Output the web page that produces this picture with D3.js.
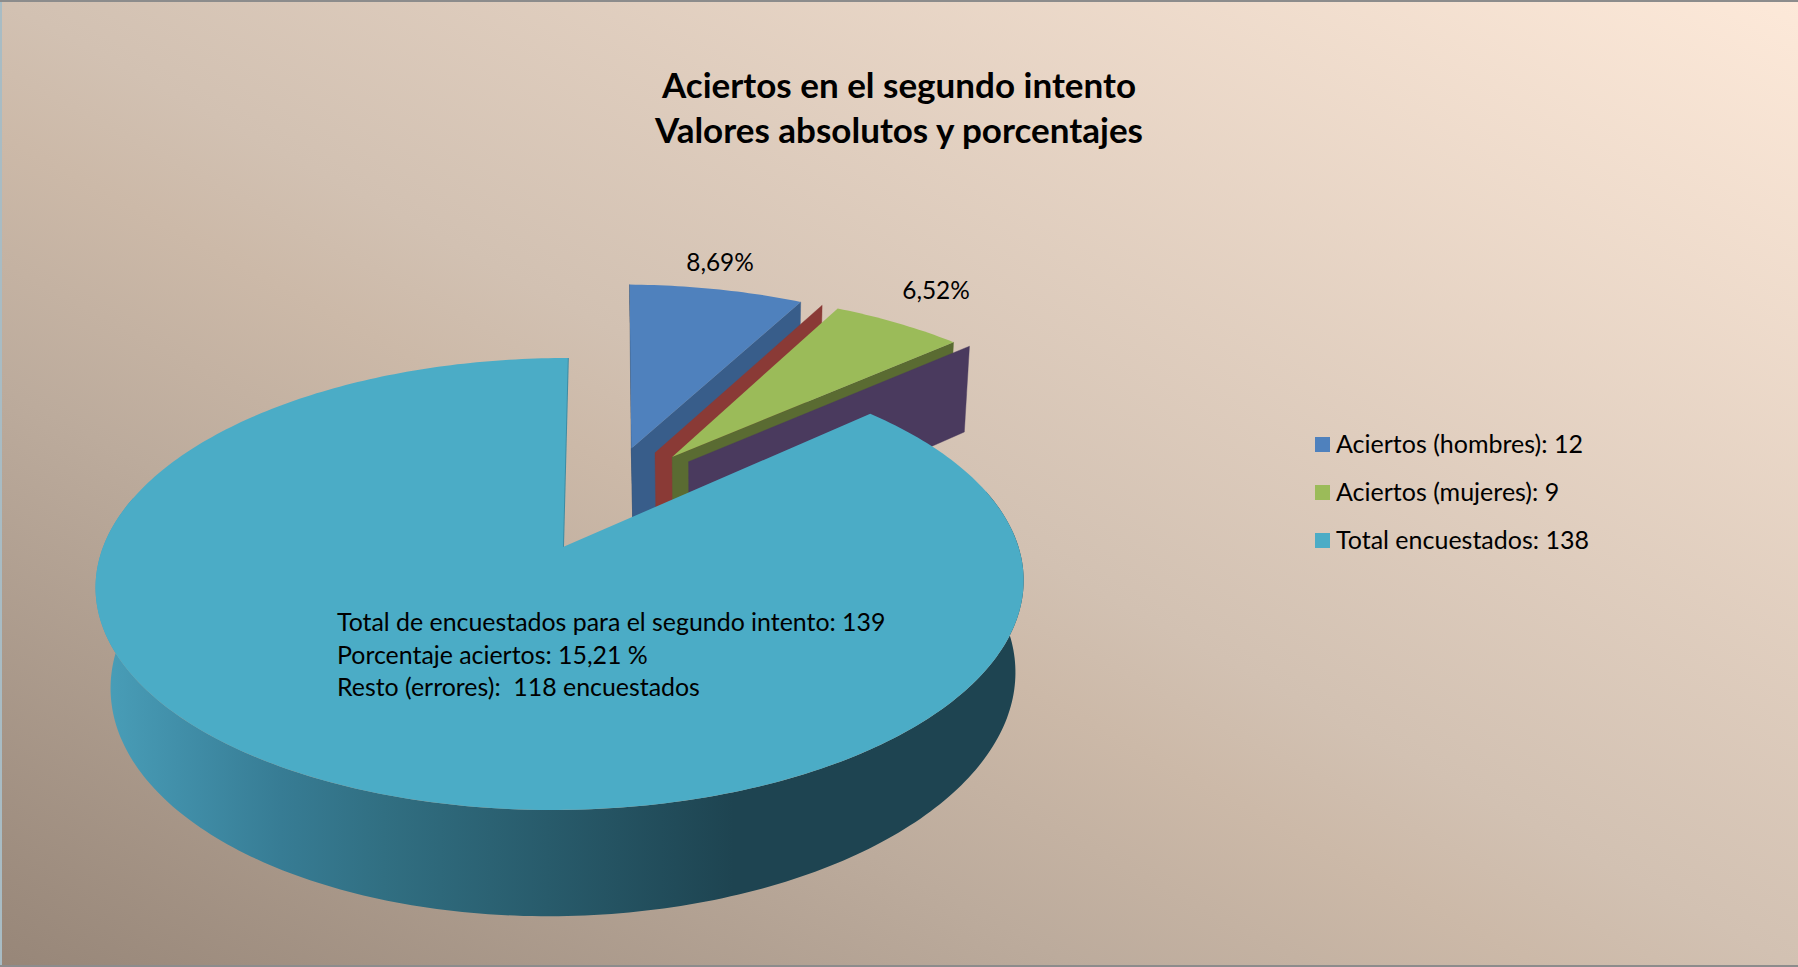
<!DOCTYPE html>
<html><head><meta charset="utf-8">
<script src="https://cdn.jsdelivr.net/npm/d3@7"></script>
<style>html,body{margin:0;padding:0;background:#fff;overflow:hidden}svg{display:block}text{font-family:Lato,"Open Sans",sans-serif;fill:#000}</style>
</head><body><svg id="c" width="1798" height="967"></svg>
<script>
const categories=["Aciertos (hombres)","(sin nombre A)","Aciertos (mujeres)","(sin nombre B)","Total encuestados"];
const values=[12,0,9,0,138];
const legendItems=["Aciertos (hombres): 12","Aciertos (mujeres): 9","Total encuestados: 138"];
const dataLabels=["8,69%","6,52%"];
const titleLines=["Aciertos en el segundo intento","Valores absolutos y porcentajes"];
const noteLines=["Total de encuestados para el segundo intento: 139","Porcentaje aciertos: 15,21 %","Resto (errores):  118 encuestados"];

const topColors=["#4f81bd","#8a3a36","#9bbb59","#4a3a5e","#4bacc6"];
const wallColors=["#385d8a","#8a3a36","#5a6b32","#4a3a5e","#1e4451"];

const W=1798,H=967;
const svg=d3.select("#c");
const defs=svg.append("defs");
const bg=defs.append("linearGradient").attr("id","bg").attr("x1",0).attr("y1",1).attr("x2",1).attr("y2",0);
[[0,"#978678"],[.3,"#bcab9c"],[.43,"#ccb9a8"],[.5,"#d2c1b2"],[1,"#fde9d9"]].forEach(s=>bg.append("stop").attr("offset",s[0]).attr("stop-color",s[1]));
const tw=defs.append("linearGradient").attr("id","tw").attr("gradientUnits","userSpaceOnUse").attr("x1",95).attr("x2",1024).attr("y1",0).attr("y2",0);
[[0,"#4aa0ba"],[.09,"#418fa9"],[.2,"#377c94"],[.31,"#316f82"],[.487,"#285b6b"],[.687,"#1e4451"],[1,"#1e4451"]].forEach(s=>tw.append("stop").attr("offset",s[0]).attr("stop-color",s[1]));

svg.append("rect").attr("width",W).attr("height",H).attr("fill","url(#bg)");
svg.append("path").attr("d",`M1,${H}V0`).attr("stroke","#a8bcc4").attr("stroke-width",2).attr("fill","none");
svg.append("path").attr("d",`M0,1H${W}`).attr("stroke","#8c8c8c").attr("stroke-width",2).attr("fill","none");
svg.append("path").attr("d",`M0,${H-1}H${W}`).attr("stroke","#8c8c8c").attr("stroke-width",2).attr("fill","none");

// perspective model of the disc
const cx=559.6,cy=547,A=457.8,B=219.9,k=.1637,thick=98,m=.025,baseShift=3.4;
const scaleThick=d3.scaleLinear().domain([0,1]).range([0,thick]);
const tiltTop=3.5,tiltBottom=8;
function proj(u,v,d,tilted){
  const w=1-k*v+m*d;
  const t=tilted?(tiltTop+(tiltBottom-tiltTop)*d)*u:0;
  return [cx+baseShift*d+A*u/w,cy+(B*v+scaleThick(d)-t)/w];
}

const rot=1.2*Math.PI/180;
const arcs=d3.pie().sort(null).startAngle(rot).endAngle(rot+2*Math.PI)(values);
const line=d3.line();
const dirOf=mid=>(12+.492*mid)*Math.PI/180;
const explodeE=.512;
arcs.forEach((a,i)=>{
  const mid=(a.startAngle+a.endAngle)/2*180/Math.PI;
  if(i<4){const t=dirOf(mid);a.ou=explodeE*Math.sin(t);a.ov=-explodeE*Math.cos(t);a.cu=a.ou;a.tilted=false;}
  else{a.ou=0;a.ov=0;a.cu=.0074;a.tilted=true;}
});
const rim=(a,t,d)=>proj(a.ou+Math.sin(t),a.ov-Math.cos(t),d,a.tilted);
const centre=(a,d)=>proj(a.cu,a.ov,d,a.tilted);
const ring=(a,t0,t1,d)=>{const n=Math.max(1,Math.ceil(Math.abs(t1-t0)*60));return d3.range(n+1).map(j=>rim(a,t0+(t1-t0)*j/n,d));};
const g=svg.append("g");
const radial=(a,t,fill)=>g.append("path").attr("d",line([centre(a,0),rim(a,t,0),rim(a,t,1),centre(a,1)])+"Z").attr("fill",fill).attr("stroke",fill).attr("stroke-width",.4);
const topFace=(a,fill)=>g.append("path").attr("d",line([centre(a,0),...ring(a,a.startAngle,a.endAngle,0)])+"Z").attr("fill",fill);

const [blue,red,green,purple,teal]=arcs;
radial(blue,blue.startAngle,"#1f3a5c");
radial(blue,blue.endAngle,wallColors[0]);
topFace(blue,topColors[0]);
radial(red,red.startAngle,wallColors[1]);
radial(green,green.endAngle,wallColors[2]);
topFace(green,topColors[2]);
radial(purple,purple.startAngle,wallColors[3]);

// teal: radial edge sliver, outer wall and top face
const t1=teal.endAngle;
g.append("path").attr("d",line([centre(teal,0),rim(teal,t1,0)])).attr("stroke","#3d8ba3").attr("stroke-width",2).attr("fill","none");
const tWallA=Math.PI/2-.25,tWallB=Math.PI*1.5+.25;
g.append("path").attr("d",line([...ring(teal,tWallA,tWallB,0),...ring(teal,tWallB,tWallA,1)])+"Z").attr("fill","url(#tw)");
topFace(teal,topColors[4]);

const cap=svg.append("g").attr("text-anchor","middle").attr("font-weight",700).attr("font-size",35);
cap.selectAll("text").data(titleLines).join("text").attr("x",899).attr("y",(d,i)=>98+i*44.5).text(d=>d);

const lblPos=[[720,271],[936,299]];
svg.append("g").attr("text-anchor","middle").attr("font-size",24.4).selectAll("text").data(dataLabels).join("text")
  .attr("x",(d,i)=>lblPos[i][0]).attr("y",(d,i)=>lblPos[i][1]).text(d=>d);

svg.append("g").attr("font-size",24.9).selectAll("text").data(noteLines).join("text")
  .attr("x",337).attr("y",(d,i)=>631+i*32.5).style("white-space","pre").text(d=>d);

const legColor=[topColors[0],topColors[2],topColors[4]];
const lg=svg.append("g").selectAll("g").data(legendItems).join("g").attr("transform",(d,i)=>`translate(1315,${437+i*48})`);
lg.append("rect").attr("width",15).attr("height",15).attr("fill",(d,i)=>legColor[i]);
lg.append("text").attr("x",21).attr("y",16).attr("font-size",25).text(d=>d);
</script></body></html>
